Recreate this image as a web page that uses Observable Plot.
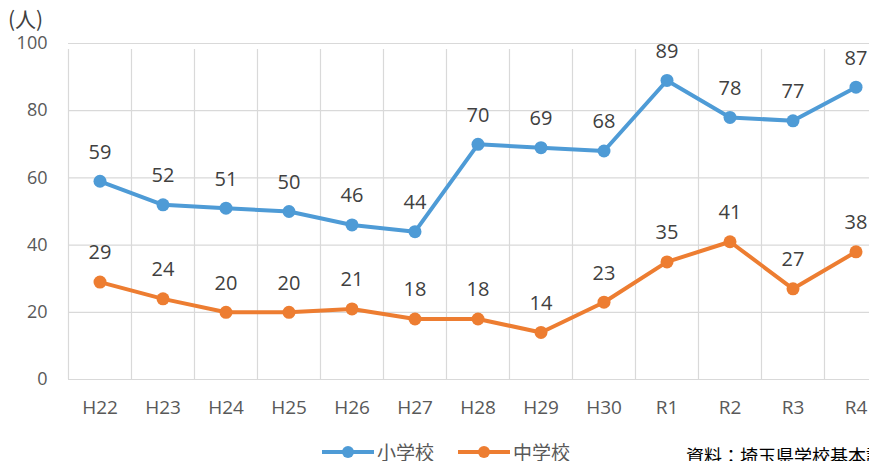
<!DOCTYPE html>
<html>
<head>
<meta charset="utf-8">
<script src="https://cdn.jsdelivr.net/npm/d3@7"></script>
<script src="https://cdn.jsdelivr.net/npm/@observablehq/plot@0.6"></script>
<style>
  html, body { margin: 0; padding: 0; background: #fff; overflow: hidden; }
  #wrap { position: relative; width: 869px; height: 461px; overflow: hidden;
          font-family: "Open Sans", "Noto Sans CJK JP", sans-serif; }
  #chart { position: absolute; left: 0; top: 0; }
  .unit { position: absolute; left: 8px; top: 8px; font-size: 21px; color: #404040;
          font-family: "Noto Sans CJK JP", sans-serif; line-height: 1; }
  .legend { position: absolute; top: 442px; left: 322px; display: flex; align-items: center;
            font-family: "Noto Sans CJK JP", sans-serif; font-size: 19px; color: #595959; line-height: 1; }
  .legend .item { display: flex; align-items: center; margin-right: 24px; }
  .legend svg { margin-right: 3px; }
  .caption { position: absolute; top: 446px; left: 686px; white-space: nowrap;
             font-family: "Noto Sans CJK JP", sans-serif; font-size: 18px; color: #000; line-height: 1; }
</style>
</head>
<body>
<div id="wrap">
  <div id="chart"></div>
  <div class="unit">(人)</div>
  <div class="legend" id="legend"></div>
  <div class="caption">資料：埼玉県学校基本調査</div>
</div>
<script>
const years = ["H22","H23","H24","H25","H26","H27","H28","H29","H30","R1","R2","R3","R4"];
const elementary = [59,52,51,50,46,44,70,69,68,89,78,77,87];
const juniorHigh = [29,24,20,20,21,18,18,14,23,35,41,27,38];
const seriesNames = ["小学校","中学校"];
const seriesColors = ["#4e9bd6","#ed7d31"];
const yTicks = [0,20,40,60,80,100];

const rows = [];
years.forEach((y, i) => {
  rows.push({i, year: y, series: seriesNames[0], value: elementary[i]});
  rows.push({i, year: y, series: seriesNames[1], value: juniorHigh[i]});
});
const boundaries = d3.range(years.length + 1).map(k => k - 0.5);

const chart = Plot.plot({
  width: 869,
  height: 461,
  marginLeft: 68,
  marginRight: -18,
  marginTop: 43,
  marginBottom: 82,
  style: {fontFamily: '"Open Sans", "Noto Sans CJK JP", sans-serif', background: "transparent"},
  x: {type: "linear", domain: [-0.5, years.length - 0.5], axis: null},
  y: {domain: [0, 100], axis: null},
  color: {domain: seriesNames, range: seriesColors},
  marks: [
    Plot.ruleY(yTicks, {stroke: "#d9d9d9", strokeWidth: 1.2}),
    Plot.ruleX(boundaries, {y1: 0, y2: 100, stroke: "#d9d9d9", strokeWidth: 1.2, insetBottom: -6}),
    Plot.axisY({ticks: yTicks, tickSize: 0, tickPadding: 21, fontSize: 18, color: "#595959", label: null}),
    Plot.axisX({ticks: d3.range(years.length), tickFormat: i => years[i], tickSize: 0, tickPadding: 21, fontSize: 19, color: "#595959", label: null}),
    Plot.line(rows, {x: "i", y: "value", stroke: "series", z: "series", strokeWidth: 4}),
    Plot.dot(rows, {x: "i", y: "value", fill: "series", r: 6.5}),
    Plot.text(rows, {x: "i", y: "value", text: "value", dy: -29, fontSize: 20, fill: "#404040"})
  ]
});
document.getElementById("chart").appendChild(chart);

const legend = document.getElementById("legend");
seriesNames.forEach((name, k) => {
  const item = document.createElement("div");
  item.className = "item";
  item.innerHTML = `<svg width="52" height="14"><line x1="0" y1="7" x2="52" y2="7" stroke="${seriesColors[k]}" stroke-width="4"/><circle cx="26" cy="7" r="6" fill="${seriesColors[k]}"/></svg><span>${name}</span>`;
  legend.appendChild(item);
});
</script>
</body>
</html>
